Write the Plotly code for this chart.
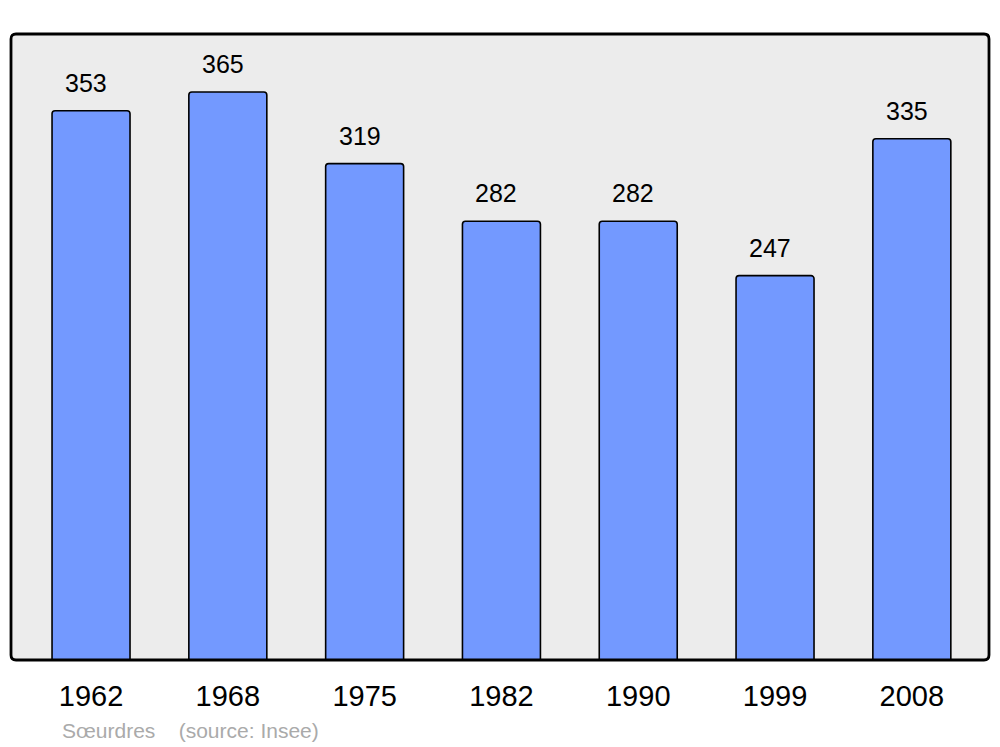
import plotly.graph_objects as go

years = ["1962", "1968", "1975", "1982", "1990", "1999", "2008"]
population = [353, 365, 319, 282, 282, 247, 335]
source_text = "Sœurdres    (source: Insee)"

# page has an 8px body margin, so the figure is placed at (8, 8)
OFF = 8
L, R, T, B = 11 - OFF, 989 - OFF, 34 - OFF, 660 - OFF
W, H = 1000 - OFF, 747 - OFF
PW, PH = R - L, B - T

fig = go.Figure()
fig.add_trace(go.Bar(
    x=list(range(len(years))), y=population, width=0.57,
    marker=dict(color="#7399ff", line=dict(color="black", width=1.6)),
    hoverinfo="skip",
))
for i, v in enumerate(population):
    fig.add_annotation(x=i, y=v, text=str(v), showarrow=False, yanchor="middle",
                       yshift=28, xshift=-5, font=dict(size=25, color="black"))
fig.add_annotation(x=(60 - 11) / 978, y=(660 - 730) / 626, xref="paper", yref="paper",
                   text=source_text, showarrow=False, xanchor="left", yanchor="middle",
                   font=dict(size=21, color="#aaaaaa"))

# rounded frame
rx, ry = 5 / PW, 5 / PH
frame = (f"M {rx},0 L {1-rx},0 Q 1,0 1,{ry} L 1,{1-ry} Q 1,1 {1-rx},1 "
         f"L {rx},1 Q 0,1 0,{1-ry} L 0,{ry} Q 0,0 {rx},0 Z")
fig.add_shape(type="path", xref="paper", yref="paper", path=frame,
              line=dict(color="black", width=2.8), layer="above")

fig.update_layout(
    width=W, height=H,
    margin=dict(l=L, r=W - R, t=T, b=H - B),
    plot_bgcolor="#ececec", paper_bgcolor="white",
    font=dict(family="Liberation Sans, Arial, sans-serif", color="black"),
    barcornerradius=3,
    showlegend=False,
    xaxis=dict(range=[-0.585, 6.564], showgrid=False, zeroline=False,
               tickmode="array", tickvals=list(range(len(years))), ticktext=years,
               ticks="outside", ticklen=10, tickcolor="rgba(0,0,0,0)",
               tickfont=dict(size=29)),
    yaxis=dict(range=[0, 402.3], showgrid=False, zeroline=False, showticklabels=False),
)
fig.write_html("out.html")
